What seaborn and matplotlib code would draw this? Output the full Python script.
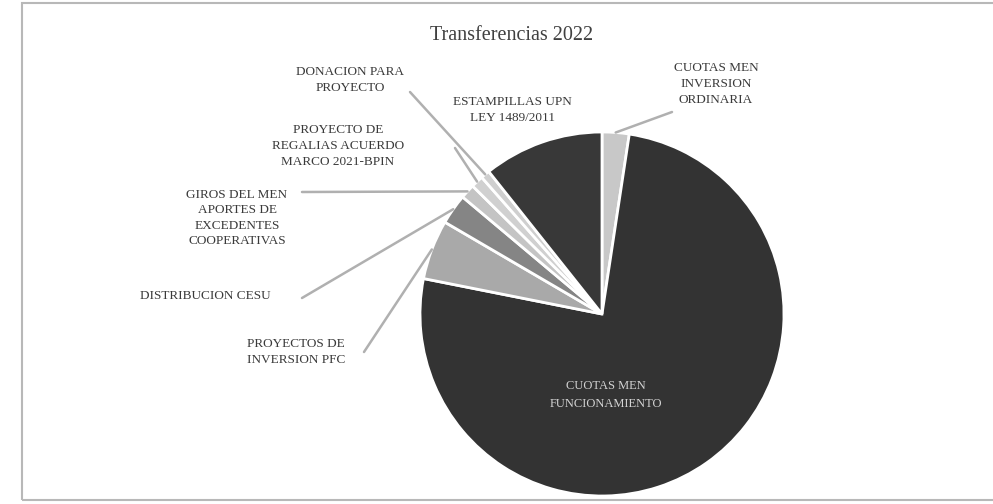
import numpy as np
import matplotlib
matplotlib.use("Agg")
import matplotlib.pyplot as plt
from matplotlib.patches import Rectangle
import seaborn as sns

# data (shares of 2022 transfers)
labels = [
    "CUOTAS MEN\nINVERSION\nORDINARIA",
    "CUOTAS MEN\nFUNCIONAMIENTO",
    "PROYECTOS DE\nINVERSION PFC",
    "DISTRIBUCION CESU",
    "GIROS DEL MEN\nAPORTES DE\nEXCEDENTES\nCOOPERATIVAS",
    "PROYECTO DE\nREGALIAS ACUERDO\nMARCO 2021-BPIN",
    "DONACION PARA\nPROYECTO",
    "ESTAMPILLAS UPN\nLEY 1489/2011",
]
values = [2.4, 75.8, 5.3, 2.7, 1.3, 1.1, 0.8, 10.7]
colors = ["#c8c8c8", "#333333", "#a9a9a9", "#858585", "#c4c4c4", "#d0d0d0", "#cfcfcf", "#383838"]

# label placement in pixel coords (x, y from top) and leader start
label_pos = [(716, 84), (606, 395), (296, 352), (205, 296), (237, 218), (338, 146), (350, 80), (512, 110)]
leader_from = [(672, 112), None, (364, 352), (302, 298), (302, 192), (455, 148), (410, 92), None]

sns.set_theme(style="white")
plt.rcParams["font.family"] = ["Liberation Serif", "DejaVu Serif"]

W, H = 993, 504
fig = plt.figure(figsize=(W / 100, H / 100), dpi=100)
ax = fig.add_axes([0, 0, 1, 1])

# chart frame
ax.add_patch(Rectangle((22, 4), W, H - 7, fill=False, edgecolor="#b8b8b8", lw=1.5))

cx, cy, r = 602, H - 314, 182
wedges, _ = ax.pie(values, colors=colors, startangle=90, counterclock=False,
                   center=(cx, cy), radius=r, frame=True,
                   wedgeprops=dict(edgecolor="white", linewidth=2))
ax.set_xlim(0, W)
ax.set_ylim(0, H)
ax.set_aspect("equal")
ax.axis("off")

for i, (w, lab, pos, src) in enumerate(zip(wedges, labels, label_pos, leader_from)):
    inside = values[i] == max(values)
    ax.text(pos[0], H - pos[1], lab, ha="center", va="center",
            fontsize=9 if inside else 9.5,
            color="#d4d4d4" if inside else "#3a3a3a",
            linespacing=1.6 if inside else 1.4)
    if src is not None:
        mid = np.deg2rad((w.theta1 + w.theta2) / 2)
        tip = (cx + r * np.cos(mid), cy + r * np.sin(mid))
        ax.plot([src[0], tip[0]], [H - src[1], tip[1]], color="#b0b0b0", lw=1.8,
                solid_capstyle="round", zorder=3)

ax.text(512, H - 35, "Transferencias 2022", ha="center", va="center",
        fontsize=14.5, color="#404040")

fig.savefig("out.png", dpi=100, facecolor="white")
